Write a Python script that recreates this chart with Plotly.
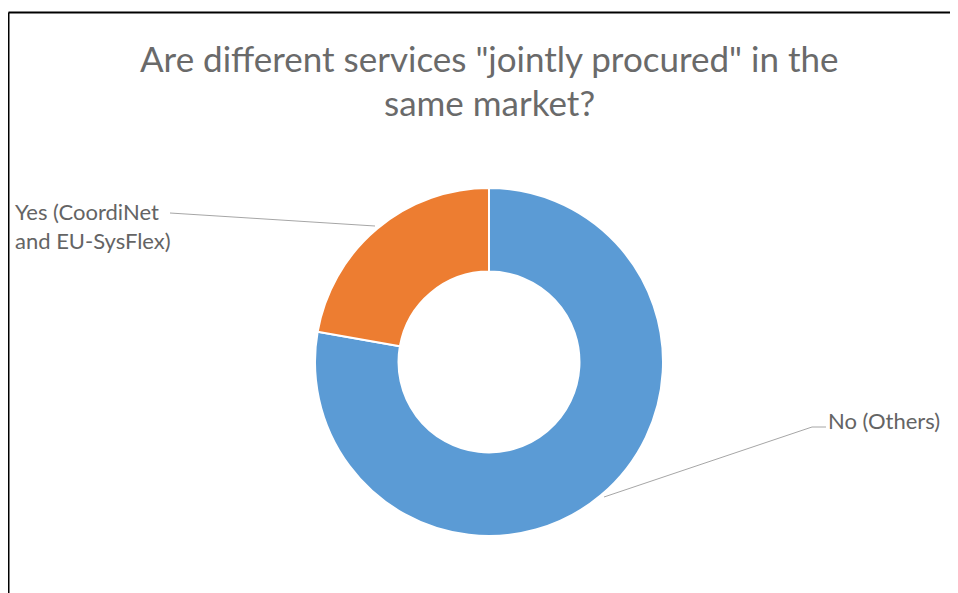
import plotly.graph_objects as go

labels = ["No (Others)", "Yes (CoordiNet and EU-SysFlex)"]
values = [7, 2]
colors = ["#5B9BD5", "#ED7D31"]

W, H = 958, 593
OFF = 8  # page body margin
grey = "#646464"


def px_x(x):
    return (x - OFF) / W


def px_y(y):
    return 1 - (y - OFF) / H


fig = go.Figure()

fig.add_trace(go.Pie(
    labels=labels,
    values=values,
    hole=0.52,
    sort=False,
    direction="clockwise",
    rotation=0,
    textinfo="none",
    hoverinfo="label+value+percent",
    marker=dict(colors=colors, line=dict(color="white", width=2)),
    domain=dict(x=[px_x(315), px_x(663)], y=[px_y(536), px_y(188)]),
    showlegend=False,
))

# title (two lines, like the original)
fig.add_annotation(text='Are different services "jointly procured" in the',
                   x=px_x(489), y=px_y(58), xref="paper", yref="paper",
                   xanchor="center", yanchor="middle",
                   showarrow=False, font=dict(family="Lato", size=35, color="#6a6a6a"))
fig.add_annotation(text="same market?",
                   x=px_x(489), y=px_y(102), xref="paper", yref="paper",
                   xanchor="center", yanchor="middle",
                   showarrow=False, font=dict(family="Lato", size=35, color="#6a6a6a"))

# data labels
fig.add_annotation(text="Yes (CoordiNet<br>and EU-SysFlex)",
                   x=px_x(13), y=px_y(226), xref="paper", yref="paper",
                   xanchor="left", yanchor="middle", align="left", showarrow=False,
                   font=dict(family="Lato", size=22, color=grey))
fig.add_annotation(text="No (Others)",
                   x=px_x(826), y=px_y(420), xref="paper", yref="paper",
                   xanchor="left", yanchor="middle", showarrow=False,
                   font=dict(family="Lato", size=22, color=grey))

# leader lines
fig.add_shape(type="line", xref="paper", yref="paper",
              x0=px_x(170), y0=px_y(213), x1=px_x(375), y1=px_y(226),
              line=dict(color="#a6a6a6", width=1))
fig.add_shape(type="path", xref="paper", yref="paper",
              path=f"M {px_x(604)},{px_y(497)} L {px_x(812)},{px_y(427)} L {px_x(826)},{px_y(427)}",
              line=dict(color="#a6a6a6", width=1))

# chart frame (clipped at the right and bottom in the original)
fig.add_shape(type="line", xref="paper", yref="paper",
              x0=px_x(8.5), y0=px_y(12.5), x1=1, y1=px_y(12.5),
              line=dict(color="black", width=2))
fig.add_shape(type="line", xref="paper", yref="paper",
              x0=px_x(8.5), y0=px_y(12.5), x1=px_x(8.5), y1=0,
              line=dict(color="black", width=2))

fig.update_layout(
    width=W,
    height=H,
    margin=dict(l=0, r=0, t=0, b=0),
    paper_bgcolor="white",
    plot_bgcolor="white",
)

fig.write_html("out.html")
